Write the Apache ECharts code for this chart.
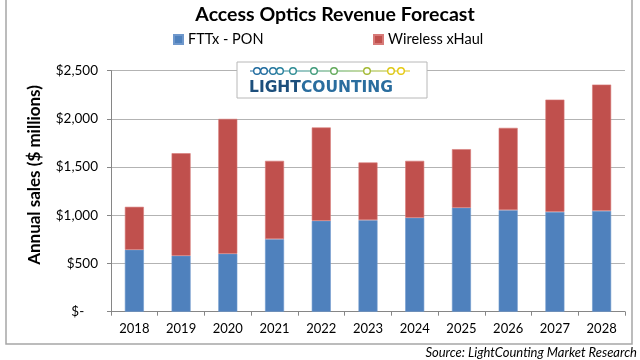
<!DOCTYPE html>
<html>
<head>
<meta charset="utf-8">
<script src="https://cdn.jsdelivr.net/npm/echarts@6/dist/echarts.min.js"></script>
<style>html,body{margin:0;padding:0;background:#fff}#c{width:640px;height:360px}</style>
</head>
<body>
<div id="c"></div>
<script>
var categories = ['2018','2019','2020','2021','2022','2023','2024','2025','2026','2027','2028'];
var fttxPon = [642, 580, 601, 753, 943, 950, 974, 1078, 1054, 1036, 1046];
var totals = [1088, 1644, 2000, 1565, 1911, 1548, 1565, 1686, 1907, 2200, 2356];
var wirelessXhaul = totals.map(function(t, i){ return t - fttxPon[i]; });
var yTicks = [0, 500, 1000, 1500, 2000, 2500];

var FONT = 'Lato, "Open Sans", sans-serif';
var chart = echarts.init(document.getElementById('c'));

function fmt(v){
  if (v === 0) return '$-    ';
  return '$' + v.toLocaleString('en-US');
}

var chainX = [257, 264, 273, 280, 293, 314, 334, 367, 391, 401];
var chainC = ['#1f6a9e','#1f6a9e','#22759e','#267f9c','#2e8c94','#3f9a7a','#62a95a','#a3b932','#dcc716','#e6c912'];
var graphics = [
  {type:'rect', shape:{x:6, y:-5, width:626, height:349}, style:{fill:'none', stroke:'#a6a6a6', lineWidth:1.5}, z:0},
  {type:'rect', shape:{x:237, y:62, width:190, height:36}, style:{fill:'#fff', stroke:'#b8b8b8', lineWidth:1}, z:100},
  {type:'line', shape:{x1:250, y1:71, x2:410, y2:71}, style:{lineWidth:1.2, stroke:{
    type:'linear', x:0, y:0, x2:1, y2:0, global:false,
    colorStops:[{offset:0,color:'#1f6a9e'},{offset:0.3,color:'#2e8c94'},{offset:0.55,color:'#5aa85c'},{offset:0.8,color:'#a8ba30'},{offset:1,color:'#e6c912'}]
  }}, z:101},
  {type:'text', x:249, y:88, style:{
    text:'{a|LIGHT}{b|COUNTING}', verticalAlign:'middle',
    rich:{
      a:{fill:'#1d4f7c', fontFamily:'"DejaVu Sans", sans-serif', fontWeight:'bold', fontSize:15.5},
      b:{fill:'#2a6d9e', fontFamily:'"DejaVu Sans", sans-serif', fontWeight:'bold', fontSize:15.5}
    }}, z:102},
  {type:'text', x:35, y:175, rotation:Math.PI/2, style:{text:'Annual sales ($ millions)', fill:'#000', font:'bold 17px ' + FONT, align:'center', verticalAlign:'middle'}},
  {type:'text', x:637, y:353, style:{text:'Source: LightCounting Market Research', fill:'#000', font:'italic 13px ' + FONT, align:'right', verticalAlign:'middle'}}
];
chainX.forEach(function(x, i){
  graphics.push({type:'circle', shape:{cx:x, cy:71, r:3.3}, style:{fill:'#fff', stroke:chainC[i], lineWidth:1.4}, z:103});
});

var legendText = {fontFamily: FONT, fontSize: 14.5, color: '#000'};
chart.setOption({
  animation: false,
  title: {
    text: 'Access Optics Revenue Forecast',
    left: 330, top: 0, textAlign: 'center',
    textStyle: {fontFamily: FONT, fontWeight: 'bold', fontSize: 19.5, color: '#000'}
  },
  legend: [
    {data:[{name:'FTTx - PON', itemStyle:{color:'#4f81bd'}}], left:173, top:32, padding:0,
     itemWidth:9, itemHeight:9, icon:'rect', textStyle: legendText},
    {data:[{name:'Wireless xHaul', itemStyle:{color:'#c0504d'}}], left:373, top:32, padding:0,
     itemWidth:9, itemHeight:9, icon:'rect', textStyle: legendText}
  ],
  grid: {left: 111, right: 15, top: 70.7, bottom: 48.3},
  xAxis: {
    type: 'category', data: categories,
    axisLine: {lineStyle: {color: '#868686', width: 1}},
    axisTick: {show: true, length: 4, lineStyle: {color: '#868686'}},
    axisLabel: {fontFamily: FONT, fontSize: 13, color: '#000', margin: 11}
  },
  yAxis: {
    type: 'value', min: 0, max: 2500, interval: 500,
    axisLine: {show: true, lineStyle: {color: '#868686'}},
    axisTick: {show: true, length: 4, lineStyle: {color: '#868686'}},
    splitLine: {lineStyle: {color: '#b3b3b3', width: 1}},
    axisLabel: {fontFamily: FONT, fontSize: 13.5, color: '#000', margin: 13, formatter: fmt}
  },
  series: [
    {name:'FTTx - PON', type:'bar', stack:'t', data: fttxPon, barWidth: 19,
     itemStyle:{color:'#4f81bd', borderColor:'#6f98cc', borderWidth:0.6}},
    {name:'Wireless xHaul', type:'bar', stack:'t', data: wirelessXhaul, barWidth: 19,
     itemStyle:{color:'#c0504d', borderColor:'#d77a78', borderWidth:0.6}}
  ],
  graphic: graphics
});
</script>
</body>
</html>
